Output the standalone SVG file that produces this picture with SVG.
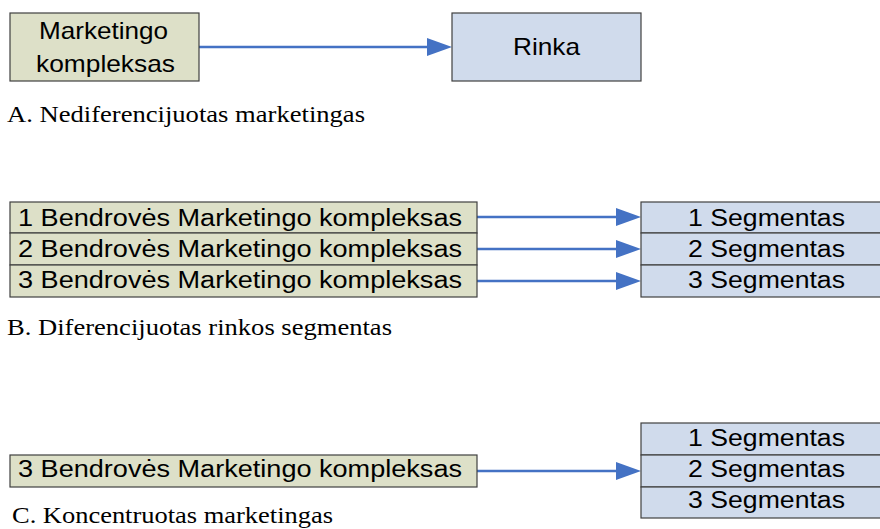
<svg xmlns="http://www.w3.org/2000/svg" width="880" height="529" viewBox="0 0 880 529">
<style>
.g{fill:#dde0c8;stroke:#404040;stroke-width:1.2}
.b{fill:#d0dbec;stroke:#404040;stroke-width:1.2}
.t{font-family:"Liberation Sans",Arial,sans-serif;font-size:24px;fill:#000}
.r{font-family:"Liberation Sans",Arial,sans-serif;font-size:23px;fill:#000}
.c{font-family:"Liberation Serif","Times New Roman",serif;font-size:24px;fill:#000}
.a{stroke:#4472c4;stroke-width:2.5;fill:none}
.h{fill:#4472c4}
</style>
<g id="connectors">
<line class="a" x1="199" y1="47" x2="430" y2="47"/>
<path class="h" d="M427,38 L452,47 L427,56 Z"/>
<line class="a" x1="477" y1="217" x2="620" y2="217"/>
<path class="h" d="M616,208 L641,217 L616,226 Z"/>
<line class="a" x1="477" y1="249" x2="620" y2="249"/>
<path class="h" d="M616,240 L641,249 L616,258 Z"/>
<line class="a" x1="477" y1="281" x2="620" y2="281"/>
<path class="h" d="M616,272 L641,281 L616,290 Z"/>
<line class="a" x1="477" y1="471" x2="620" y2="471"/>
<path class="h" d="M616,462 L641,471 L616,480 Z"/>
</g>
<g id="a-mix">
<rect class="g" x="10" y="13" width="189" height="68"/>
<text class="t" x="39" y="39" textLength="129" lengthAdjust="spacingAndGlyphs">Marketingo</text>
<text class="t" x="36" y="72" textLength="139" lengthAdjust="spacingAndGlyphs">kompleksas</text>
</g>
<g id="a-market">
<rect class="b" x="452" y="13" width="189" height="68"/>
<text class="t" x="513" y="55" textLength="67" lengthAdjust="spacingAndGlyphs">Rinka</text>
</g>
<text class="c" x="7" y="122" textLength="358" lengthAdjust="spacingAndGlyphs">A. Nediferencijuotas marketingas</text>
<g id="b-mix1"><rect class="g" x="10" y="202" width="467" height="31"/><text class="r" x="18" y="226" textLength="444" lengthAdjust="spacingAndGlyphs">1 Bendrovės Marketingo kompleksas</text></g>
<g id="b-mix2"><rect class="g" x="10" y="233" width="467" height="32"/><text class="r" x="18" y="257" textLength="444" lengthAdjust="spacingAndGlyphs">2 Bendrovės Marketingo kompleksas</text></g>
<g id="b-mix3"><rect class="g" x="10" y="265" width="467" height="32"/><text class="r" x="18" y="288" textLength="444" lengthAdjust="spacingAndGlyphs">3 Bendrovės Marketingo kompleksas</text></g>
<g id="b-seg1"><rect class="b" x="641" y="202" width="245" height="31"/><text class="r" x="688" y="226" textLength="157" lengthAdjust="spacingAndGlyphs">1 Segmentas</text></g>
<g id="b-seg2"><rect class="b" x="641" y="233" width="245" height="32"/><text class="r" x="688" y="257" textLength="157" lengthAdjust="spacingAndGlyphs">2 Segmentas</text></g>
<g id="b-seg3"><rect class="b" x="641" y="265" width="245" height="32"/><text class="r" x="688" y="288" textLength="157" lengthAdjust="spacingAndGlyphs">3 Segmentas</text></g>
<text class="c" x="7" y="335" textLength="385" lengthAdjust="spacingAndGlyphs">B. Diferencijuotas rinkos segmentas</text>
<g id="c-mix"><rect class="g" x="10" y="455" width="467" height="32"/><text class="r" x="18" y="477" textLength="444" lengthAdjust="spacingAndGlyphs">3 Bendrovės Marketingo kompleksas</text></g>
<g id="c-seg1"><rect class="b" x="641" y="423" width="245" height="32"/><text class="r" x="688" y="446" textLength="157" lengthAdjust="spacingAndGlyphs">1 Segmentas</text></g>
<g id="c-seg2"><rect class="b" x="641" y="455" width="245" height="32"/><text class="r" x="688" y="477" textLength="157" lengthAdjust="spacingAndGlyphs">2 Segmentas</text></g>
<g id="c-seg3"><rect class="b" x="641" y="487" width="245" height="31"/><text class="r" x="688" y="508" textLength="157" lengthAdjust="spacingAndGlyphs">3 Segmentas</text></g>
<text class="c" x="12" y="523" textLength="321" lengthAdjust="spacingAndGlyphs">C. Koncentruotas marketingas</text>
</svg>
